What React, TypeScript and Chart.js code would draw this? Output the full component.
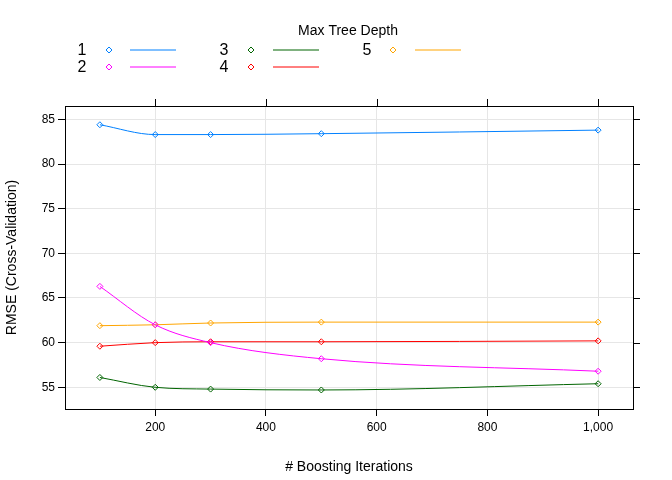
import { useEffect, useRef } from "react"
import { Chart, registerables } from "chart.js"

Chart.register(...registerables)

const iterations = [100, 200, 300, 500, 1000]
const depths = ["1", "2", "3", "4", "5"]
const colors = ["#0080ff", "#ff00ff", "#006400", "#ff0000", "#ffa500"]
const rmse = [
  [84.4, 83.3, 83.3, 83.4, 83.8],
  [66.3, 62.0, 60.0, 58.2, 56.8],
  [56.1, 55.0, 54.8, 54.7, 55.4],
  [59.6, 60.0, 60.1, 60.1, 60.2],
  [61.9, 62.0, 62.2, 62.3, 62.3],
]
const xTicks = [200, 400, 600, 800, 1000]
const yTicks = [55, 60, 65, 70, 75, 80, 85]
const font = "Liberation Sans, Arial, sans-serif"

// legend in lattice style, above the panel
const legendPlugin = {
  id: "latticeLegend",
  afterDraw(chart: Chart) {
    const ctx = chart.ctx
    ctx.save()
    ctx.font = `14px ${font}`
    ctx.fillStyle = "#000"
    ctx.textAlign = "center"
    ctx.textBaseline = "middle"
    ctx.fillText("Max Tree Depth", 348, 31)
    const cols = [
      { t: 82, p: 109, l1: 130, l2: 176 },
      { t: 224, p: 251, l1: 273, l2: 319 },
      { t: 367, p: 393, l1: 415, l2: 461 },
    ]
    depths.forEach((d, i) => {
      const c = cols[Math.floor(i / 2)]
      const y = i % 2 === 0 ? 50 : 67
      ctx.fillStyle = "#000"
      ctx.font = `16px ${font}`
      ctx.fillText(d, c.t, y + 1)
      ctx.strokeStyle = colors[i]
      ctx.lineWidth = 1
      ctx.beginPath()
      ctx.moveTo(c.p, y - 3)
      ctx.lineTo(c.p + 3, y)
      ctx.lineTo(c.p, y + 3)
      ctx.lineTo(c.p - 3, y)
      ctx.closePath()
      ctx.stroke()
      ctx.beginPath()
      ctx.moveTo(c.l1, y)
      ctx.lineTo(c.l2, y)
      ctx.stroke()
    })
    ctx.restore()
  },
}

// top and right tick marks plus the panel box
const boxPlugin = {
  id: "latticeBox",
  afterDraw(chart: Chart) {
    const { ctx, chartArea: a, scales } = chart
    ctx.save()
    ctx.strokeStyle = "#000"
    ctx.lineWidth = 1
    ctx.strokeRect(a.left + 0.5, a.top + 0.5, a.right - a.left, a.bottom - a.top)
    ctx.beginPath()
    xTicks.forEach((v) => {
      const x = Math.round(scales.x.getPixelForValue(v)) + 0.5
      ctx.moveTo(x, a.top)
      ctx.lineTo(x, a.top - 7)
    })
    yTicks.forEach((v) => {
      const y = Math.round(scales.y.getPixelForValue(v)) + 0.5
      ctx.moveTo(a.right, y)
      ctx.lineTo(a.right + 7, y)
    })
    ctx.stroke()
    ctx.restore()
  },
}

export default function App() {
  const chartRef = useRef<HTMLCanvasElement>(null)
  const chartInstance = useRef<Chart | null>(null)

  useEffect(() => {
    if (!chartRef.current) return
    if (chartInstance.current) chartInstance.current.destroy()
    const ctx = chartRef.current.getContext("2d")
    if (!ctx) return

    chartInstance.current = new Chart(ctx, {
      type: "line",
      data: {
        datasets: depths.map((d, i) => ({
          label: d,
          data: iterations.map((x, j) => ({ x, y: rmse[i][j] })),
          borderColor: colors[i],
          backgroundColor: "rgba(0,0,0,0)",
          borderWidth: 1,
          pointStyle: "rectRot",
          pointRadius: 3,
          pointBorderWidth: 1,
          cubicInterpolationMode: "monotone" as const,
        })),
      },
      options: {
        animation: false,
        responsive: false,
        layout: { padding: { top: 106, right: 39, left: 0, bottom: 0 } },
        plugins: { legend: { display: false }, tooltip: { enabled: false } },
        scales: {
          x: {
            type: "linear",
            min: 37,
            max: 1063,
            afterBuildTicks: (s: any) => {
              s.ticks = xTicks.map((v) => ({ value: v }))
            },
            afterFit: (s: any) => {
              s.height = 71
            },
            border: { display: false },
            grid: { color: "#e6e6e6", tickColor: "#000", tickLength: 7 },
            ticks: { color: "#000", font: { family: font, size: 12 }, padding: 4, maxRotation: 0 },
            title: {
              display: true,
              text: "# Boosting Iterations",
              color: "#000",
              font: { family: font, size: 14 },
              padding: { top: 8 },
            },
          },
          y: {
            min: 52.57,
            max: 86.5,
            afterBuildTicks: (s: any) => {
              s.ticks = yTicks.map((v) => ({ value: v }))
            },
            afterFit: (s: any) => {
              s.width = 65
            },
            border: { display: false },
            grid: { color: "#e6e6e6", tickColor: "#000", tickLength: 7 },
            ticks: { color: "#000", font: { family: font, size: 12 }, padding: 3 },
            title: {
              display: true,
              text: "RMSE (Cross-Validation)",
              color: "#000",
              font: { family: font, size: 14 },
              padding: { bottom: 0 },
            },
          },
        },
      },
      plugins: [legendPlugin, boxPlugin],
    })

    return () => {
      if (chartInstance.current) chartInstance.current.destroy()
    }
  }, [])

  return (
    <div style={{ position: "absolute", left: 0, top: 0, width: 672, height: 480, background: "#fff" }}>
      <canvas ref={chartRef} width={672} height={480} />
    </div>
  )
}
